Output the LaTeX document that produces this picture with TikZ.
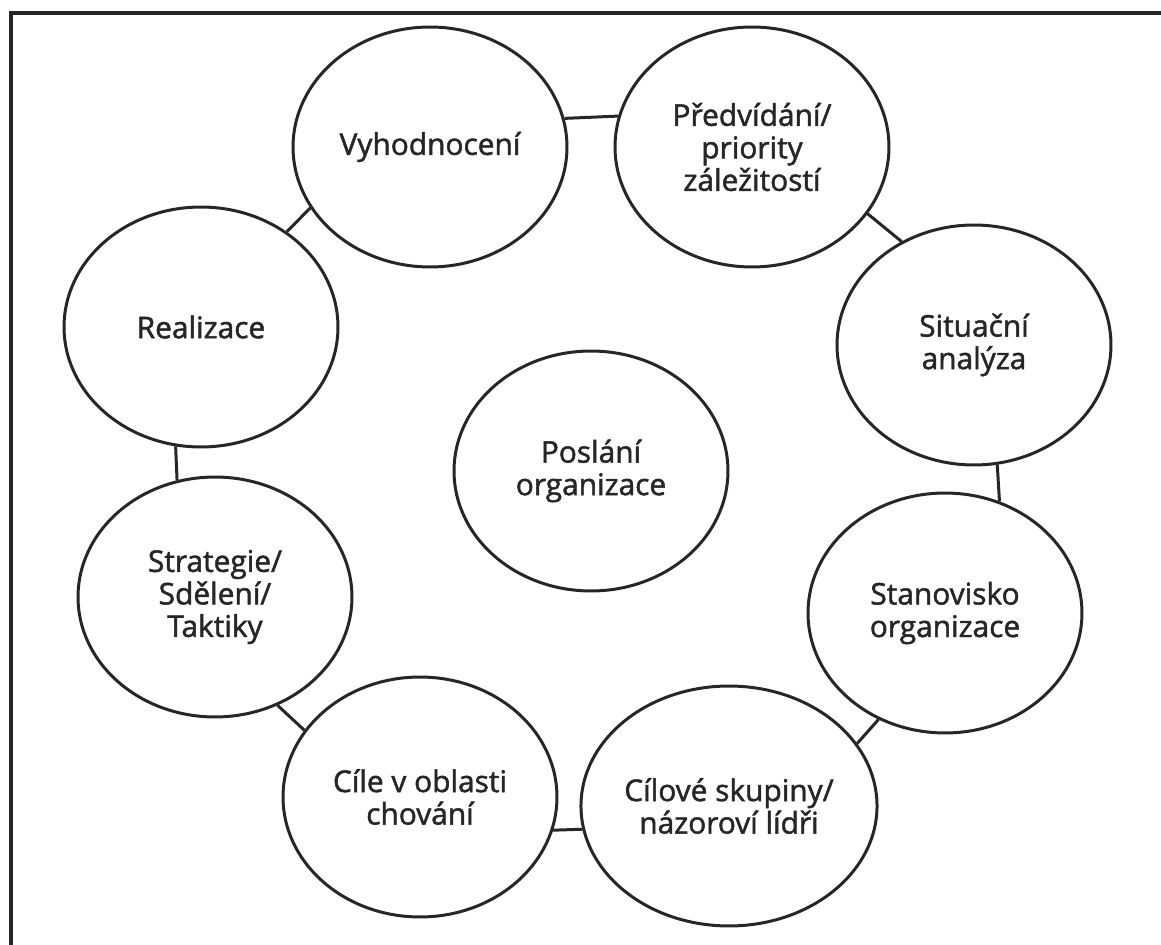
\documentclass[tikz,border=0pt]{standalone}
\usepackage{fontspec}
\setmainfont{Open Sans}
\newfontfamily\labelfont{Open Sans}[FakeBold=1.6]
\usetikzlibrary{shapes.geometric}
\definecolor{ink}{HTML}{262626}

\begin{document}
\begin{tikzpicture}[x=0.02cm,y=-0.02cm,
        bubble/.style={ellipse,draw=ink,line width=1.7pt,minimum width=5.48cm,
          minimum height=4.8cm,inner sep=0pt,align=center,text=ink,
          font=\labelfont\fontsize{17}{18.5}\selectfont},
        link/.style={draw=ink,line width=1.7pt}]
        \clip (0,0) rectangle (1161,945);
        \fill[white] (0,0) rectangle (1161,945);
        \draw[ink,line width=2.3pt] (11,960) -- (11,13) -- (1180,13);

        \node[bubble] (posl) at (591,471) {Poslání\\organizace};

        \node[bubble] (vyh) at (430,147) {Vyhodnocení};
        \node[bubble] (pred) at (752,147) {Předvídání/\\priority\\záležitostí};
        \node[bubble] (sit) at (974,345) {Situační\\analýza};
        \node[bubble] (stan) at (945,613) {Stanovisko\\organizace};
        \node[bubble] (cilsk) at (729,806) {Cílové skupiny/\\názoroví lídři};
        \node[bubble] (cile) at (420,797) {Cíle v oblasti\\chování};
        \node[bubble] (strat) at (215,597) {Strategie/\\Sdělení/\\Taktiky};
        \node[bubble] (real) at (201,327) {Realizace};

        %short links round the ring
        \draw[link] (vyh.12.3) -- (pred.167.7);
        \draw[link] (pred.330.8) -- (sit.125.2);
        \draw[link] (sit.281) -- (stan.64.9);
        \draw[link] (stan.238.7) -- (cilsk.26.6);
        \draw[link] (cilsk.189.3) -- (cile.346.8);
        \draw[link] (cile.150.5) -- (strat.300.4);
        \draw[link] (strat.108.3) -- (real.258.5);
        \draw[link] (real.48.8) -- (vyh.207.1);
\end{tikzpicture}
\end{document}
